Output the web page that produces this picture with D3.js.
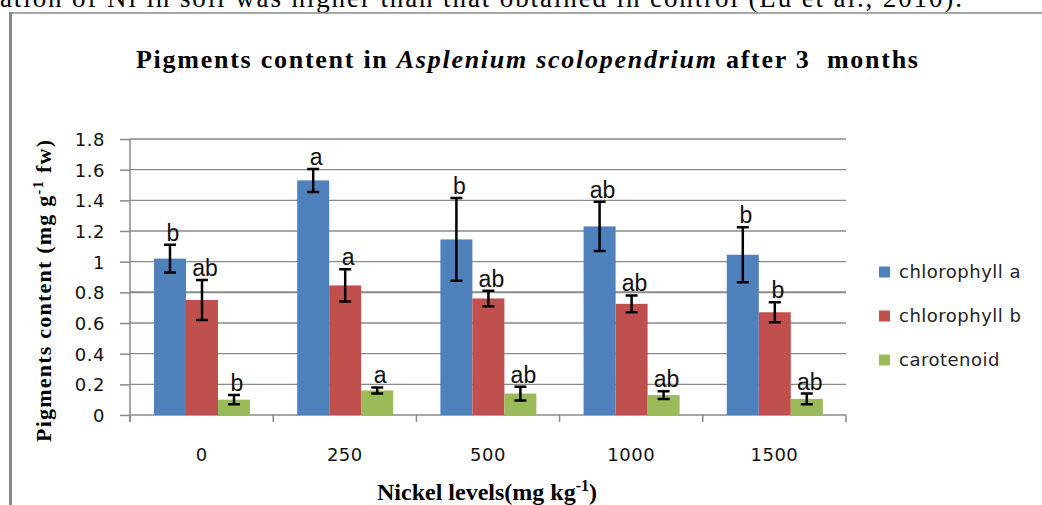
<!DOCTYPE html>
<html>
  <head>
    <meta charset="utf-8">
    <title>Pigments content in Asplenium scolopendrium</title>
    <script src="https://d3js.org/d3.v7.min.js"></script>
    <style>
      body { margin: 0; background: #fff; }
      svg { display: block; }
      text { white-space: pre; }
    </style>
  </head>
  <body>
    <svg id="chart" width="1042" height="505"></svg>
    <script>
      // data
      levels = ["0", "250", "500", "1000", "1500"];
      seriesNames = ["chlorophyll a", "chlorophyll b", "carotenoid"];
      chlA = [1.02, 1.53, 1.145, 1.23, 1.045];
      chlAErr = [0.09, 0.075, 0.27, 0.16, 0.18];
      chlB = [0.75, 0.845, 0.76, 0.725, 0.67];
      chlBErr = [0.13, 0.105, 0.05, 0.055, 0.065];
      carot = [0.10, 0.16, 0.14, 0.13, 0.105];
      carotErr = [0.03, 0.02, 0.045, 0.025, 0.035];
      chlALetters = ["b", "a", "b", "ab", "b"];
      chlBLetters = ["ab", "a", "ab", "ab", "b"];
      carotLetters = ["b", "a", "ab", "ab", "ab"];
      yTicks = [0, 0.2, 0.4, 0.6, 0.8, 1, 1.2, 1.4, 1.6, 1.8];
      colours = ["#4f81bd", "#c0504d", "#9bbb59"];

      values = [chlA, chlB, carot];
      errors = [chlAErr, chlBErr, carotErr];
      letters = [chlALetters, chlBLetters, carotLetters];

      svg = d3.select("#chart");
      svg.append("rect").attr("width", 1042).attr("height", 505).attr("fill", "#fff");

      // bit of the paper text above the figure
      svg.append("text")
        .attr("x", 0).attr("y", 7)
        .attr("textLength", 962)
        .attr("lengthAdjust", "spacing")
        .style("font-family", "Liberation Serif, Times New Roman, serif")
        .style("font-size", "27px")
        .text("ation of Ni in soil was higher than that obtained in control (Lu et al., 2010).");

      // frame of the figure
      svg.append("line").attr("x1", 10).attr("x2", 1042).attr("y1", 13).attr("y2", 13)
        .attr("stroke", "#888").attr("stroke-width", 1.5);
      svg.append("line").attr("x1", 10.5).attr("x2", 10.5).attr("y1", 12).attr("y2", 505)
        .attr("stroke", "#888").attr("stroke-width", 3);

      // scales
      x0 = d3.scaleBand().domain(levels).range([130, 846]);
      x1 = d3.scaleBand().domain(d3.range(3)).range([24, 120]);
      y = d3.scaleLinear().domain([0, 1.8]).range([415, 139]);

      // gridlines
      svg.append("g")
        .selectAll("line")
          .data(yTicks.slice(1))
        .enter().append("line")
          .attr("x1", 130).attr("x2", 846)
          .attr("y1", function(d) { return y(d); })
          .attr("y2", function(d) { return y(d); })
          .attr("stroke", "#8a8a8a")
          .attr("stroke-width", function(d) { return d == 0.8 ? 2 : 1.3; });

      // y axis
      yAxis = d3.axisLeft(y)
        .tickValues(yTicks)
        .tickSize(10)
        .tickPadding(15)
        .tickFormat(function(d) { return d; });
      yg = svg.append("g").attr("transform", "translate(130,0)").call(yAxis);
      yg.select(".domain").attr("d", "M0," + y(1.8) + "V422");

      // x axis
      xAxis = d3.axisBottom(x0).tickSize(0).tickPadding(33);
      xg = svg.append("g").attr("transform", "translate(0,415)").call(xAxis);
      xg.select(".domain").attr("d", "M130,0H846");
      xg.selectAll(".boundary")
        .data(levels.concat(["end"]))
        .enter().append("line")
          .attr("x1", function(d, i) { return 130 + i * x0.bandwidth(); })
          .attr("x2", function(d, i) { return 130 + i * x0.bandwidth(); })
          .attr("y1", 0).attr("y2", 7)
          .attr("stroke", "#8a8a8a").attr("stroke-width", 1.5);

      [yg, xg].forEach(function(g) {
        g.selectAll(".domain, .tick line").attr("stroke", "#8a8a8a").attr("stroke-width", 1.5);
        g.selectAll("text")
          .attr("fill", "#111")
          .style("font-family", "DejaVu Sans, sans-serif")
          .style("font-size", "18px")
          .style("letter-spacing", "0.5px");
      });
      yg.selectAll(".tick text").attr("dy", "0.36em");

      // bars, error bars and letters
      cells = [];
      levels.forEach(function(lv, i) {
        for (s = 0; s < 3; s++) {
          cells.push({ level: lv, s: s, v: values[s][i], e: errors[s][i], t: letters[s][i] });
        }
      });
      groups = svg.append("g").selectAll("g")
          .data(cells)
        .enter().append("g")
          .attr("transform", function(d) { return "translate(" + (x0(d.level) + x1(d.s)) + ",0)"; });
      groups.append("rect")
        .attr("x", 0)
        .attr("width", x1.bandwidth())
        .attr("y", function(d) { return y(d.v); })
        .attr("height", function(d) { return y(0) - y(d.v); })
        .attr("fill", function(d) { return colours[d.s]; });
      cx = x1.bandwidth() / 2;
      groups.append("path")
        .attr("d", function(d) {
          top_ = y(d.v + d.e); bot = y(d.v - d.e);
          return "M" + cx + "," + top_ + "V" + bot +
            "M" + (cx - 6) + "," + top_ + "H" + (cx + 6) +
            "M" + (cx - 6) + "," + bot + "H" + (cx + 6);
        })
        .attr("stroke", "#000")
        .attr("stroke-width", 2.5)
        .attr("fill", "none");
      groups.append("text")
        .attr("x", cx + 3)
        .attr("y", function(d) { return y(d.v + d.e) - 4; })
        .attr("text-anchor", "middle")
        .attr("fill", "#111")
        .style("font-family", "Liberation Sans, Arial, sans-serif")
        .style("font-size", "23px")
        .text(function(d) { return d.t; });

      // legend
      legend = svg.append("g").selectAll("g")
          .data(seriesNames)
        .enter().append("g")
          .attr("transform", function(d, i) { return "translate(879," + (272 + i * 44) + ")"; });
      legend.append("rect")
        .attr("x", 0).attr("y", -5.5)
        .attr("width", 11).attr("height", 11)
        .attr("fill", function(d, i) { return colours[i]; });
      legend.append("text")
        .attr("x", 20).attr("dy", "0.35em")
        .attr("fill", "#222")
        .style("font-family", "DejaVu Sans, sans-serif")
        .style("font-size", "18px")
        .style("letter-spacing", "0.5px")
        .text(function(d) { return d; });

      // titles
      serif = "Liberation Serif, Times New Roman, serif";
      title = svg.append("text")
        .attr("x", 136).attr("y", 68)
        .attr("textLength", 782)
        .attr("lengthAdjust", "spacing")
        .style("font-family", serif)
        .style("font-size", "26px")
        .style("font-weight", "bold");
      title.append("tspan").text("Pigments content in ");
      title.append("tspan").style("font-style", "italic").text("Asplenium scolopendrium");
      title.append("tspan").text(" after 3  months");

      yTitle = svg.append("text")
        .attr("transform", "translate(51,442) rotate(-90)")
        .attr("textLength", 302)
        .attr("lengthAdjust", "spacing")
        .style("font-family", serif)
        .style("font-size", "22px")
        .style("font-weight", "bold");
      yTitle.append("tspan").text("Pigments content (mg g");
      yTitle.append("tspan").attr("dy", -8).style("font-size", "15px").text("-1");
      yTitle.append("tspan").attr("dy", 8).text(" fw)");

      xTitle = svg.append("text")
        .attr("x", 487).attr("y", 500)
        .attr("text-anchor", "middle")
        .style("font-family", serif)
        .style("font-size", "24px")
        .style("font-weight", "bold");
      xTitle.append("tspan").text("Nickel levels(mg kg");
      xTitle.append("tspan").attr("dy", -9).style("font-size", "16px").text("-1");
      xTitle.append("tspan").attr("dy", 9).text(")");
    </script>
  </body>
</html>
